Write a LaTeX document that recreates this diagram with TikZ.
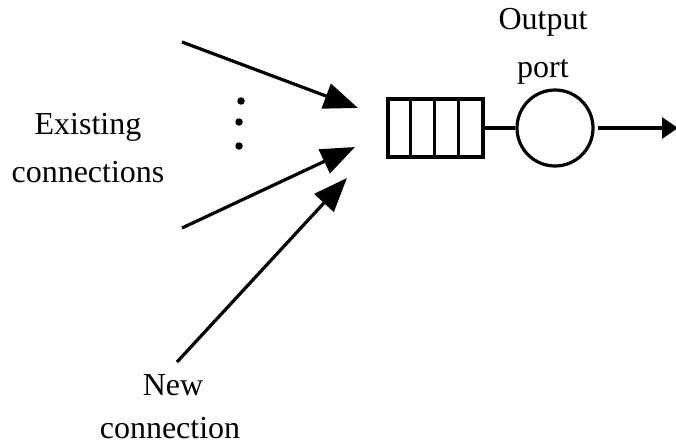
\documentclass[tikz,border=0pt]{standalone}
\usepackage{fontspec}
\setmainfont{Liberation Serif}
\usetikzlibrary{arrows.meta}
\begin{document}
\begin{tikzpicture}[x=1pt,y=-1pt,
  line width=3.2pt,
  lbl/.style={anchor=base,inner sep=0pt,font=\fontsize{32}{38}\selectfont},
  bigarrow/.style={-{Triangle[length=34pt,width=26pt]}},
  smallarrow/.style={-{Triangle[length=16pt,width=21pt]}},
  queuebox/.style={draw,rectangle,minimum width=95pt,minimum height=58pt,inner sep=0pt},
  portnode/.style={draw,circle,minimum size=76pt,inner sep=0pt},
  dot/.style={fill,circle,minimum size=7.5pt,inner sep=0pt}]
\useasboundingbox (0,0) rectangle (676,444);
% labels
\node[lbl] (ex1) at (88,134) {Existing};
\node[lbl] (ex2) at (88,182) {connections};
\node[lbl] (new1) at (173,395) {New};
\node[lbl] (new2) at (170,438) {connection};
\node[lbl] (out1) at (543,30) {Output};
\node[lbl] (out2) at (543,77) {port};
% queue and port
\node[queuebox] (queue) at (435.5,128) {};
\draw ([xshift=24pt]queue.north west) -- ([xshift=24pt]queue.south west);
\draw ([xshift=48pt]queue.north west) -- ([xshift=48pt]queue.south west);
\draw ([xshift=72pt]queue.north west) -- ([xshift=72pt]queue.south west);
\node[portnode] (port) at (555,128) {};
\draw (queue.east) -- (port.west);
\coordinate (outend) at (678,128);
\draw[smallarrow,shorten <=3pt] (port.east) -- (outend);
% dots
\node[dot] (d1) at (241,101) {};
\node[dot] (d2) at (239,122) {};
\node[dot] (d3) at (239,146) {};
% incoming arrows
\coordinate (a1s) at (182,42);
\coordinate (a1e) at (358,108);
\coordinate (a2s) at (182,228);
\coordinate (a2e) at (355,147);
\coordinate (a3s) at (177,362);
\coordinate (a3e) at (347,178);
\draw[bigarrow] (a1s) -- (a1e);
\draw[bigarrow] (a2s) -- (a2e);
\draw[bigarrow] (a3s) -- (a3e);
\end{tikzpicture}
\end{document}
